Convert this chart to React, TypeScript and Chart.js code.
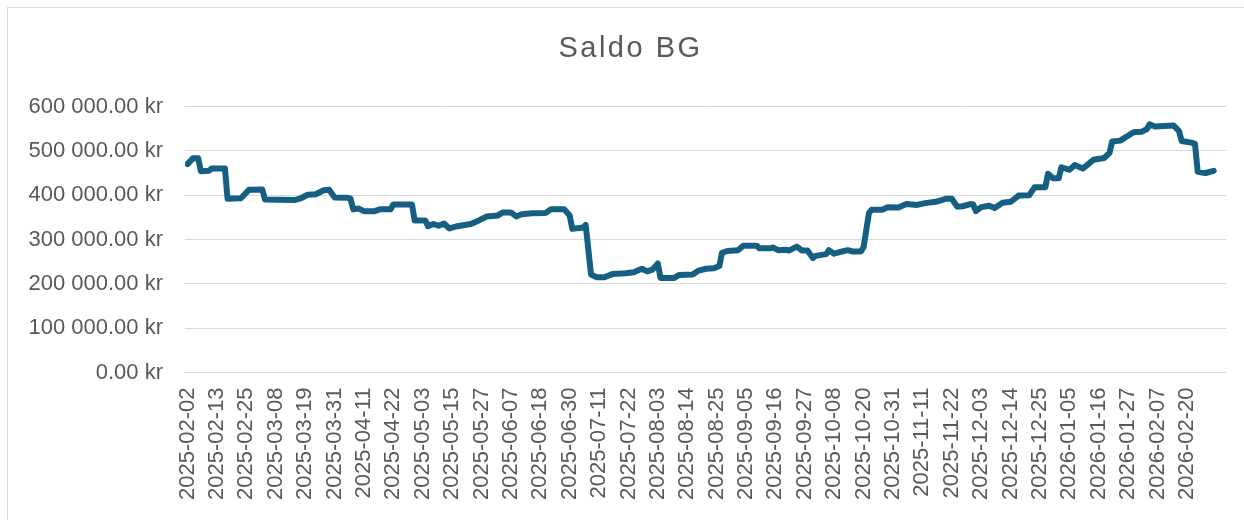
import React, { useEffect, useRef } from "react";
import { Chart, registerables } from "chart.js";

Chart.register(...registerables);

const TITLE = "Saldo BG";

// Date labels shown on the category axis (every 11th category)
const TICK_LABELS = [
  "2025-02-02", "2025-02-13", "2025-02-25", "2025-03-08", "2025-03-19", "2025-03-31",
  "2025-04-11", "2025-04-22", "2025-05-03", "2025-05-15", "2025-05-27", "2025-06-07",
  "2025-06-18", "2025-06-30", "2025-07-11", "2025-07-22", "2025-08-03", "2025-08-14",
  "2025-08-25", "2025-09-05", "2025-09-16", "2025-09-27", "2025-10-08", "2025-10-20",
  "2025-10-31", "2025-11-11", "2025-11-22", "2025-12-03", "2025-12-14", "2025-12-25",
  "2026-01-05", "2026-01-16", "2026-01-27", "2026-02-07", "2026-02-20",
];
const LABEL_EVERY = 11;
const CATEGORY_COUNT = 385;

// Category position (0 = 2025-02-02) of each recorded balance
const DAY_INDEX = [
  0, 2, 4, 5, 8, 9, 14, 15, 20, 23, 28, 29, 40, 42, 45, 48, 51, 53, 55, 60,
  61, 62, 64, 66, 70, 72, 76, 77, 84, 85, 89, 90, 92, 94, 96, 98, 101, 106, 109, 112,
  116, 118, 121, 123, 125, 129, 134, 136, 141, 143, 144, 148, 149, 151, 153, 156, 159, 164, 167, 170,
  172, 174, 176, 177, 182, 184, 189, 191, 194, 197, 199, 200, 202, 206, 208, 213, 214, 218, 219, 221,
  224, 225, 228, 230, 232, 234, 235, 239, 240, 242, 245, 247, 249, 252, 253, 255, 256, 260, 262, 266,
  269, 273, 276, 280, 284, 286, 288, 290, 293, 294, 295, 297, 300, 302, 305, 308, 311, 315, 317, 321,
  322, 324, 326, 327, 330, 332, 335, 339, 343, 345, 346, 349, 354, 357, 359, 360, 362, 369, 371, 372,
  376, 377, 378, 381, 384,
];

// Balance (kr)
const BALANCE = [
  470000, 483000, 483000, 454000, 455000, 460000, 460000, 392000, 393000, 412000, 413000, 390000, 389000, 392000, 401000, 402000, 411000, 412000, 395000, 394000,
  392000, 368000, 370000, 364000, 364000, 368000, 368000, 379000, 379000, 343000, 343000, 330000, 335000, 331000, 336000, 325000, 330000, 335000, 343000, 352000,
  354000, 361000, 361000, 352000, 357000, 359000, 360000, 368000, 368000, 354000, 324000, 327000, 333000, 221000, 215000, 215000, 222000, 224000, 226000, 234000,
  228000, 232000, 246000, 213000, 213000, 220000, 221000, 229000, 234000, 235000, 240000, 270000, 274000, 276000, 286000, 286000, 280000, 280000, 282000, 276000,
  277000, 275000, 284000, 275000, 275000, 258000, 263000, 267000, 276000, 268000, 273000, 276000, 273000, 273000, 283000, 360000, 367000, 367000, 373000, 372000,
  380000, 378000, 382000, 385000, 392000, 392000, 374000, 375000, 380000, 379000, 364000, 373000, 376000, 371000, 383000, 385000, 399000, 400000, 418000, 418000,
  448000, 438000, 438000, 463000, 457000, 468000, 460000, 480000, 484000, 495000, 521000, 523000, 542000, 543000, 549000, 560000, 555000, 557000, 545000, 522000,
  518000, 516000, 453000, 450000, 455000,
];

const Y_TICKS = [0, 100000, 200000, 300000, 400000, 500000, 600000];

const TEXT_COLOR = "#595959";
const GRID_COLOR = "#d9d9d9";
const LINE_COLOR = "#156082";
const TICK_FONT = { family: '"Liberation Sans", Arial, sans-serif', size: 22 };

const fmtKr = (v: number) =>
  Math.round(v).toString().replace(/\B(?=(\d{3})+(?!\d))/g, " ") + ".00 kr";

const titlePlugin = {
  id: "saldoTitle",
  afterDraw(chart: any) {
    const ctx = chart.ctx as CanvasRenderingContext2D;
    ctx.save();
    ctx.font = '29px "Liberation Sans", Arial, sans-serif';
    ctx.fillStyle = TEXT_COLOR;
    ctx.textAlign = "center";
    ctx.textBaseline = "alphabetic";
    (ctx as any).letterSpacing = "2.5px";
    ctx.fillText(TITLE, chart.width / 2 + 4.5, 49);
    ctx.restore();
  },
};

export default function App() {
  const canvasRef = useRef<HTMLCanvasElement | null>(null);

  useEffect(() => {
    if (!canvasRef.current) return;
    const points = DAY_INDEX.map((d, i) => ({ x: d, y: BALANCE[i] }));
    const chart = new Chart(canvasRef.current, {
      type: "line",
      data: {
        datasets: [
          {
            label: TITLE,
            data: points,
            borderColor: LINE_COLOR,
            backgroundColor: LINE_COLOR,
            borderWidth: 6,
            pointRadius: 0,
            pointHoverRadius: 0,
            tension: 0,
            fill: false,
            borderJoinStyle: "round",
            borderCapStyle: "round",
          },
        ],
      },
      options: {
        animation: false,
        responsive: false,
        maintainAspectRatio: false,
        devicePixelRatio: 1,
        layout: { padding: { top: 98.5, right: 18, bottom: 0, left: 0 } },
        plugins: {
          legend: { display: false },
          tooltip: { enabled: false },
          title: { display: false },
        },
        scales: {
          x: {
            type: "linear",
            min: -0.935,
            max: CATEGORY_COUNT + 3.6,
            afterBuildTicks: (s: any) => {
              s.ticks = TICK_LABELS.map((_, k) => ({ value: k * LABEL_EVERY }));
            },
            ticks: {
              autoSkip: false,
              maxRotation: 90,
              minRotation: 90,
              padding: 15,
              color: TEXT_COLOR,
              font: TICK_FONT,
              callback: (_v: any, i: number) => TICK_LABELS[i],
            },
            grid: { display: false, drawTicks: false },
            border: { display: false },
            afterFit: (s: any) => {
              s.height = 147.5;
            },
          },
          y: {
            min: 0,
            max: 600000,
            afterBuildTicks: (s: any) => {
              s.ticks = Y_TICKS.map((v) => ({ value: v }));
            },
            ticks: {
              padding: 22,
              color: TEXT_COLOR,
              font: TICK_FONT,
              callback: (v: any) => fmtKr(Number(v)),
            },
            grid: { color: GRID_COLOR, lineWidth: 1, drawTicks: false },
            border: { display: false },
            afterFit: (s: any) => {
              s.width = 177;
            },
          },
        },
      },
      plugins: [titlePlugin],
    } as any);
    return () => chart.destroy();
  }, []);

  return (
    <div
      style={{
        position: "absolute",
        left: 7,
        top: 7,
        width: 1237,
        height: 513,
        boxSizing: "border-box",
        borderLeft: `1px solid ${GRID_COLOR}`,
        borderTop: `1px solid ${GRID_COLOR}`,
        background: "#ffffff",
        overflow: "hidden",
      }}
    >
      <canvas ref={canvasRef} width={1236} height={512} style={{ display: "block", width: 1236, height: 512 }} />
    </div>
  );
}
